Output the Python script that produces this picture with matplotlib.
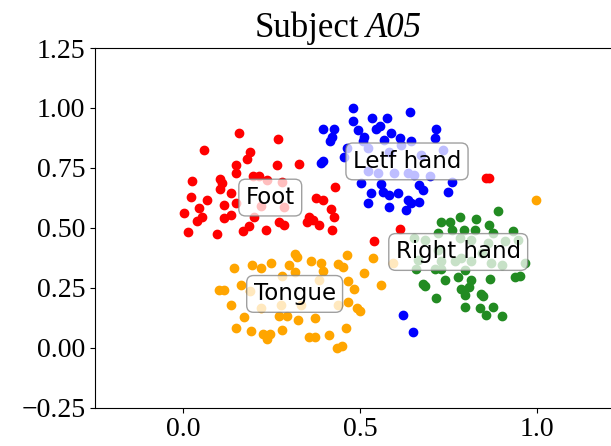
import matplotlib
matplotlib.use("Agg")
import matplotlib.pyplot as plt

# fonts: Times-like for ticks/title, DejaVu for the cluster labels
plt.rcParams['font.family'] = 'serif'
plt.rcParams['font.serif'] = ['Liberation Serif', 'DejaVu Serif']

# Foot (red)
foot_x = [0.157, 0.268, 0.058, 0.190, 0.179, 0.149, 0.264, 0.326, 0.149, 0.197,
          0.214, 0.025, 0.105, 0.110, 0.238, 0.280, 0.103, 0.429, 0.023, 0.067,
          0.134, 0.375, 0.394, 0.148, 0.114, 0.043, 0.001, 0.219, 0.285, 0.418,
          0.427, 0.053, 0.039, 0.114, 0.134, 0.200, 0.271, 0.285, 0.356, 0.368,
          0.351, 0.384, 0.012, 0.096, 0.170, 0.186, 0.233, 0.422, 0.612, 0.541,
          0.858, 0.866]
foot_y = [0.895, 0.871, 0.825, 0.818, 0.786, 0.763, 0.760, 0.765, 0.728, 0.714,
          0.717, 0.697, 0.703, 0.686, 0.700, 0.693, 0.663, 0.672, 0.630, 0.614,
          0.647, 0.624, 0.614, 0.603, 0.596, 0.582, 0.561, 0.589, 0.586, 0.578,
          0.545, 0.547, 0.530, 0.540, 0.554, 0.545, 0.522, 0.513, 0.543, 0.533,
          0.526, 0.513, 0.482, 0.475, 0.485, 0.508, 0.492, 0.492, 0.495, 0.443,
          0.708, 0.708]

# Left hand (blue)
lh_x = [0.481, 0.642, 0.481, 0.533, 0.576, 0.394, 0.427, 0.493, 0.545, 0.557,
        0.588, 0.716, 0.420, 0.416, 0.512, 0.508, 0.612, 0.645, 0.567, 0.711,
        0.462, 0.455, 0.394, 0.389, 0.522, 0.583, 0.550, 0.597, 0.636, 0.654,
        0.697, 0.735, 0.616, 0.673, 0.522, 0.503, 0.560, 0.531, 0.564, 0.583,
        0.607, 0.668, 0.678, 0.759, 0.749, 0.522, 0.583, 0.636, 0.645, 0.668,
        0.631, 0.621, 0.650]
lh_y = [0.999, 0.982, 0.946, 0.960, 0.960, 0.911, 0.911, 0.908, 0.911, 0.926,
        0.895, 0.911, 0.880, 0.860, 0.880, 0.860, 0.874, 0.864, 0.867, 0.876,
        0.832, 0.797, 0.780, 0.770, 0.832, 0.818, 0.728, 0.728, 0.728, 0.721,
        0.714, 0.825, 0.846, 0.804, 0.735, 0.686, 0.682, 0.645, 0.651, 0.638,
        0.645, 0.679, 0.658, 0.690, 0.649, 0.605, 0.585, 0.617, 0.603, 0.607,
        0.575, 0.138, 0.064]

# Right hand (green)
rh_x = [0.891, 0.782, 0.827, 0.730, 0.754, 0.864, 0.759, 0.795, 0.825, 0.721,
        0.877, 0.934, 0.654, 0.683, 0.782, 0.815, 0.863, 0.910, 0.948, 0.730,
        0.768, 0.815, 0.872, 0.901, 0.967, 0.664, 0.787, 0.721, 0.844, 0.659,
        0.711, 0.730, 0.796, 0.776, 0.740, 0.815, 0.867, 0.938, 0.953, 0.678,
        0.685, 0.808, 0.785, 0.796, 0.842, 0.849, 0.714, 0.796, 0.839, 0.877,
        0.858, 0.903]
rh_y = [0.568, 0.545, 0.536, 0.526, 0.522, 0.513, 0.489, 0.489, 0.489, 0.478,
        0.478, 0.485, 0.457, 0.450, 0.457, 0.450, 0.436, 0.443, 0.450, 0.360,
        0.360, 0.360, 0.353, 0.346, 0.353, 0.367, 0.374, 0.408, 0.395, 0.328,
        0.329, 0.328, 0.325, 0.295, 0.280, 0.283, 0.286, 0.295, 0.297, 0.267,
        0.255, 0.253, 0.245, 0.221, 0.225, 0.214, 0.207, 0.170, 0.165, 0.170,
        0.138, 0.130]

# Tongue (orange)
tg_x = [0.316, 0.323, 0.463, 0.536, 0.143, 0.195, 0.219, 0.247, 0.299, 0.361,
        0.391, 0.437, 0.451, 0.394, 0.315, 0.511, 0.280, 0.384, 0.465, 0.560,
        0.100, 0.114, 0.162, 0.190, 0.482, 0.136, 0.465, 0.219, 0.437, 0.491,
        0.501, 0.276, 0.332, 0.171, 0.271, 0.293, 0.325, 0.373, 0.148, 0.192,
        0.226, 0.245, 0.238, 0.280, 0.356, 0.373, 0.412, 0.460, 0.435, 0.448,
        0.998, 0.593]
tg_y = [0.392, 0.380, 0.385, 0.374, 0.332, 0.346, 0.332, 0.353, 0.343, 0.360,
        0.353, 0.350, 0.336, 0.318, 0.315, 0.311, 0.297, 0.283, 0.276, 0.260,
        0.239, 0.239, 0.263, 0.235, 0.246, 0.179, 0.190, 0.165, 0.179, 0.165,
        0.151, 0.179, 0.179, 0.128, 0.130, 0.133, 0.117, 0.124, 0.082, 0.071,
        0.058, 0.058, 0.036, 0.075, 0.043, 0.043, 0.054, 0.082, -0.001, 0.005,
        0.614, 0.355]

# class labels and where they sit
label_text = ['Letf hand', 'Foot', 'Right hand', 'Tongue']
label_x = [0.633, 0.246, 0.778, 0.315]
label_y = [0.777, 0.626, 0.399, 0.224]

yticks = [-0.25, 0.00, 0.25, 0.50, 0.75, 1.00, 1.25]
xticks = [0.0, 0.5, 1.0]

fig = plt.figure(figsize=(6.11, 4.46), dpi=100)
# axes runs past the right edge of the picture (cropped figure)
ax = fig.add_axes([0.1555, 0.0863, 0.8674, 0.806])

ax.scatter(foot_x, foot_y, color='red', s=36)
ax.scatter(lh_x, lh_y, color='blue', s=36)
ax.scatter(rh_x, rh_y, color='forestgreen', s=36)
ax.scatter(tg_x, tg_y, color='orange', s=36)

for t, x, y in zip(label_text, label_x, label_y):
    ax.text(x, y, t, ha='center', va='center', fontsize=16.5,
            family='DejaVu Sans', zorder=5,
            bbox=dict(boxstyle='round', facecolor='white', edgecolor='gray', alpha=0.75))

ax.set_xlim(-0.25, 1.25)
ax.set_ylim(-0.25, 1.25)
ax.set_xticks(xticks)
ax.set_yticks(yticks)
ax.set_xticklabels(['0.0', '0.5', '1.0'])
ax.set_yticklabels(['\u22120.25', '0.00', '0.25', '0.50', '0.75', '1.00', '1.25'])
ax.tick_params(labelsize=20)

# title: "Subject" upright + "A05" italic
ax.text(0.499, 1.031, 'Subject', transform=ax.transAxes, fontsize=25,
        ha='right', va='baseline')
ax.text(0.511, 1.031, 'A05', transform=ax.transAxes, fontsize=25,
        style='italic', ha='left', va='baseline')

fig.savefig('out.png', dpi=100)
